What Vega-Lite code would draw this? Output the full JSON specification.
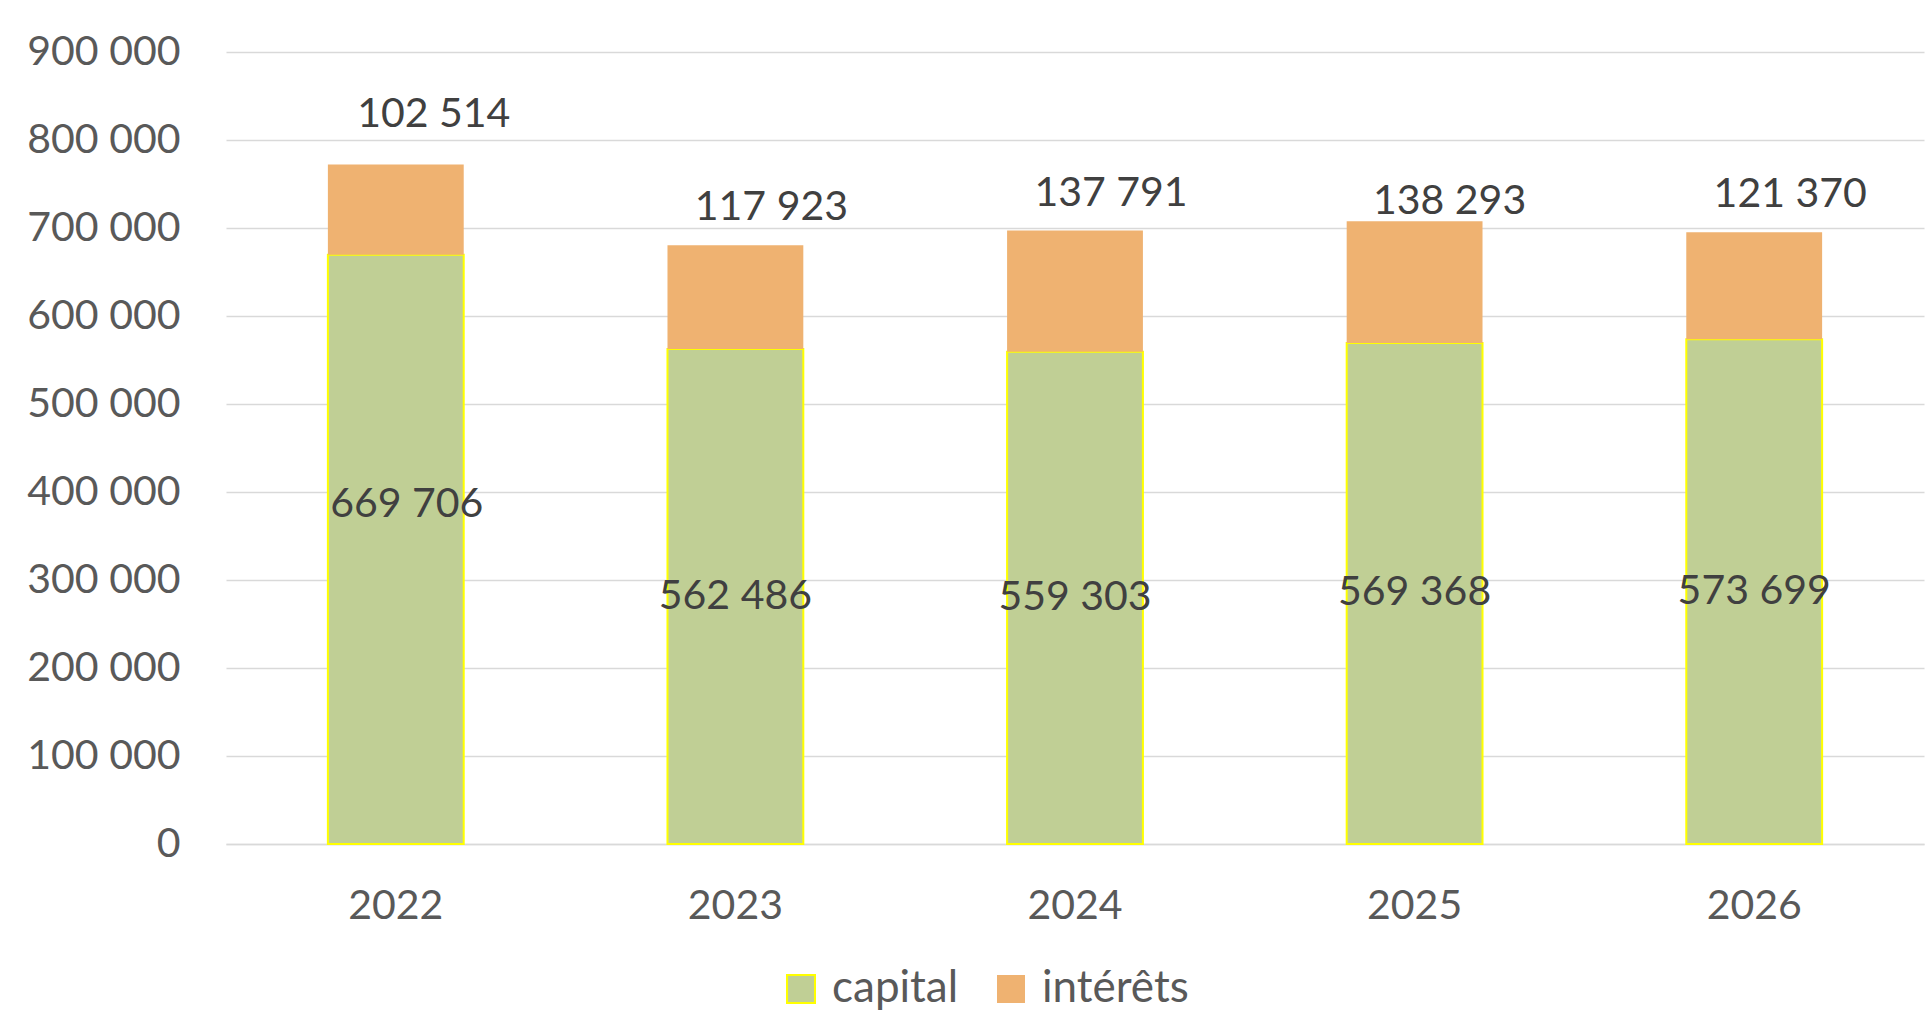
{
  "$schema": "https://vega.github.io/schema/vega-lite/v6.json",
  "width": 1698,
  "height": 792,
  "autosize": {"type": "none"},
  "padding": {"left": 226, "top": 52, "right": 7, "bottom": 190},
  "background": "white",
  "config": {
    "locale": {"number": {"decimal": ",", "thousands": " ", "grouping": [3], "currency": ["", " €"]}},
    "font": "Lato",
    "view": {"stroke": null}
  },
  "data": {
    "values": [
      {"year": "2022", "type": "capital", "value": 669706},
      {"year": "2022", "type": "intérêts", "value": 102514},
      {"year": "2023", "type": "capital", "value": 562486},
      {"year": "2023", "type": "intérêts", "value": 117923},
      {"year": "2024", "type": "capital", "value": 559303},
      {"year": "2024", "type": "intérêts", "value": 137791},
      {"year": "2025", "type": "capital", "value": 569368},
      {"year": "2025", "type": "intérêts", "value": 138293},
      {"year": "2026", "type": "capital", "value": 573699},
      {"year": "2026", "type": "intérêts", "value": 121370}
    ]
  },
  "resolve": {"scale": {"y": "independent"}},
  "layer": [
    {
      "mark": {"type": "bar", "strokeWidth": 2},
      "encoding": {
        "x": {
          "field": "year", "type": "ordinal",
          "scale": {"paddingInner": 0.6, "paddingOuter": 0.3},
          "axis": {
            "title": null, "labelAngle": 0, "labelFontSize": 41, "labelColor": "#595959",
            "ticks": false, "domain": true, "domainColor": "#d9d9d9", "domainWidth": 1.5,
            "labelPadding": 62, "labelBaseline": "middle", "grid": false
          }
        },
        "y": {
          "field": "value", "type": "quantitative", "stack": "zero",
          "scale": {"domain": [0, 900000], "nice": false},
          "axis": {
            "title": null, "labelFontSize": 41, "labelColor": "#595959", "ticks": false,
            "domain": false, "gridColor": "#d9d9d9", "gridWidth": 1.5, "labelPadding": 46,
            "values": [0, 100000, 200000, 300000, 400000, 500000, 600000, 700000, 800000, 900000],
            "format": ",d"
          }
        },
        "order": {"field": "type", "sort": "ascending"},
        "fill": {
          "field": "type", "type": "nominal",
          "scale": {"domain": ["capital", "intérêts"], "range": ["#c0cf95", "#efb271"]},
          "legend": {
            "title": null, "orient": "none", "legendX": 553, "legendY": 915, "direction": "horizontal",
            "symbolType": "square", "symbolSize": 784, "labelFontSize": 44, "labelColor": "#595959",
            "columnPadding": 30, "labelOffset": 9, "symbolStrokeWidth": 2, "labelLimit": 400
          }
        },
        "stroke": {
          "field": "type", "type": "nominal",
          "scale": {"domain": ["capital", "intérêts"], "range": ["#ffff00", "transparent"]},
          "legend": {
            "title": null, "orient": "none", "legendX": 553, "legendY": 915, "direction": "horizontal",
            "symbolType": "square", "symbolSize": 784, "labelFontSize": 44, "labelColor": "#595959",
            "columnPadding": 30, "labelOffset": 9, "symbolStrokeWidth": 2, "labelLimit": 400
          }
        }
      }
    },
    {
      "transform": [{"filter": "datum.year !== '2022' && datum.year !== '2025'"}],
      "mark": {"type": "text", "fontSize": 41, "color": "#404040", "baseline": "middle", "dx": 36, "dy": -37},
      "encoding": {
        "x": {"field": "year", "type": "ordinal"},
        "y": {
          "field": "value", "type": "quantitative", "stack": "zero",
          "scale": {"domain": [0, 900000], "nice": false}, "axis": null
        },
        "order": {"field": "type", "sort": "ascending"},
        "detail": {"field": "type"},
        "text": {"condition": {"test": "datum.type === 'capital'", "value": ""}, "field": "value", "format": ",d"}
      }
    },
    {
      "transform": [{"filter": "datum.year === '2022'"}],
      "mark": {"type": "text", "fontSize": 41, "color": "#404040", "baseline": "middle", "dx": 38, "dy": -49},
      "encoding": {
        "x": {"field": "year", "type": "ordinal"},
        "y": {
          "field": "value", "type": "quantitative", "stack": "zero",
          "scale": {"domain": [0, 900000], "nice": false}, "axis": null
        },
        "order": {"field": "type", "sort": "ascending"},
        "detail": {"field": "type"},
        "text": {"condition": {"test": "datum.type === 'capital'", "value": ""}, "field": "value", "format": ",d"}
      }
    },
    {
      "transform": [{"filter": "datum.year === '2025'"}],
      "mark": {"type": "text", "fontSize": 41, "color": "#404040", "baseline": "middle", "dx": 35, "dy": -19},
      "encoding": {
        "x": {"field": "year", "type": "ordinal"},
        "y": {
          "field": "value", "type": "quantitative", "stack": "zero",
          "scale": {"domain": [0, 900000], "nice": false}, "axis": null
        },
        "order": {"field": "type", "sort": "ascending"},
        "detail": {"field": "type"},
        "text": {"condition": {"test": "datum.type === 'capital'", "value": ""}, "field": "value", "format": ",d"}
      }
    },
    {
      "transform": [{"filter": "datum.type === 'capital' && datum.year !== '2022'"}],
      "mark": {"type": "text", "fontSize": 41, "color": "#404040", "baseline": "middle"},
      "encoding": {
        "x": {"field": "year", "type": "ordinal"},
        "y": {
          "field": "value", "type": "quantitative",
          "scale": {"domain": [0, 1800000], "nice": false}, "axis": null
        },
        "text": {"field": "value", "format": ",d"}
      }
    },
    {
      "transform": [{"filter": "datum.type === 'capital' && datum.year === '2022'"}],
      "mark": {"type": "text", "fontSize": 41, "color": "#404040", "baseline": "middle", "dx": 11, "dy": -44},
      "encoding": {
        "x": {"field": "year", "type": "ordinal"},
        "y": {
          "field": "value", "type": "quantitative",
          "scale": {"domain": [0, 1800000], "nice": false}, "axis": null
        },
        "text": {"field": "value", "format": ",d"}
      }
    }
  ]
}
